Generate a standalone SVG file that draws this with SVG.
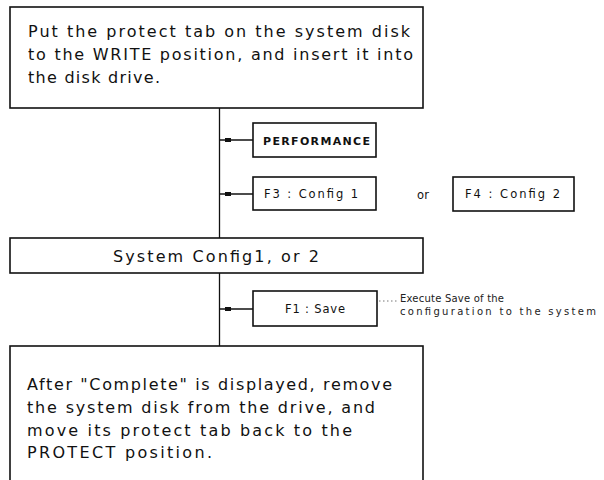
<svg xmlns="http://www.w3.org/2000/svg" width="604" height="480" viewBox="0 0 604 480">
<style>
.box{fill:#fff;stroke:#111;stroke-width:1.6}
.sbox{fill:#fff;stroke:#111;stroke-width:1.6}
.big{font-family:"DejaVu Sans","Liberation Sans",sans-serif;font-size:16px;fill:#111}
.sm{font-family:"DejaVu Sans","Liberation Sans",sans-serif;font-size:11.5px;fill:#111}
.smb{font-family:"DejaVu Sans","Liberation Sans",sans-serif;font-size:11px;font-weight:bold;fill:#111}
.note{font-family:"DejaVu Sans","Liberation Sans",sans-serif;font-size:10px;fill:#222}
.ln{stroke:#111;stroke-width:1.3;fill:none}
.dot{stroke:#777;stroke-width:1;stroke-dasharray:1.5 2.5;fill:none}
</style>
<rect width="604" height="480" fill="#fff"/>
<g id="connectors">
<line class="ln" x1="219.5" y1="108" x2="219.5" y2="238"/>
<line class="ln" x1="219.5" y1="273" x2="219.5" y2="346"/>
<line class="ln" x1="219.5" y1="140" x2="253" y2="140"/>
<rect x="225" y="138" width="6" height="4" fill="#111"/>
<line class="ln" x1="219.5" y1="194" x2="253" y2="194"/>
<rect x="225" y="192" width="6" height="4" fill="#111"/>
<line class="ln" x1="219.5" y1="309" x2="253" y2="309"/>
<rect x="225" y="307" width="6" height="4" fill="#111"/>
<line class="dot" x1="379" y1="301" x2="397" y2="301"/>
</g>
<g id="step1">
<rect class="box" x="10" y="7" width="413" height="101"/>
<text class="big" x="28" y="37" textLength="382" lengthAdjust="spacing">Put the protect tab on the system disk</text>
<text class="big" x="28" y="60" textLength="385" lengthAdjust="spacing">to the WRITE position, and insert it into</text>
<text class="big" x="28" y="83" textLength="132" lengthAdjust="spacing">the disk drive.</text>
</g>
<g id="performance">
<rect class="sbox" x="253" y="123" width="123" height="34"/>
<text class="smb" x="263" y="144.5" textLength="107" lengthAdjust="spacing">PERFORMANCE</text>
</g>
<g id="f3">
<rect class="sbox" x="253" y="177" width="123" height="33"/>
<text class="sm" x="264" y="198" textLength="94" lengthAdjust="spacing">F3 : Config 1</text>
</g>
<g id="or">
<text class="sm" x="423" y="199" text-anchor="middle">or</text>
</g>
<g id="f4">
<rect class="sbox" x="453" y="177" width="121" height="34"/>
<text class="sm" x="465" y="198" textLength="95" lengthAdjust="spacing">F4 : Config 2</text>
</g>
<g id="system-config">
<rect class="box" x="10" y="238" width="413" height="35"/>
<text class="big" x="113" y="262" textLength="206" lengthAdjust="spacing">System Config1, or 2</text>
</g>
<g id="f1">
<rect class="sbox" x="253" y="291" width="124" height="35"/>
<text class="sm" x="285" y="313" textLength="60" lengthAdjust="spacing">F1 : Save</text>
</g>
<g id="note">
<text class="note" x="400" y="302" textLength="104" lengthAdjust="spacing">Execute Save of the</text>
<text class="note" x="400" y="315" textLength="196" lengthAdjust="spacing">configuration to the system</text>
</g>
<g id="step-final">
<rect class="box" x="10" y="346" width="413" height="140"/>
<text class="big" x="27" y="390" textLength="365" lengthAdjust="spacing">After "Complete"  is displayed, remove</text>
<text class="big" x="27" y="413" textLength="348" lengthAdjust="spacing">the system disk from the drive, and</text>
<text class="big" x="27" y="436" textLength="325" lengthAdjust="spacing">move its protect tab back to the</text>
<text class="big" x="27" y="458" textLength="185" lengthAdjust="spacing">PROTECT  position.</text>
</g>
</svg>
